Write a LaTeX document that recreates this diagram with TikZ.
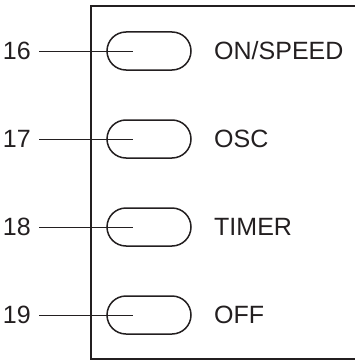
\documentclass[tikz,border=0pt]{standalone}
\usepackage{fontspec}
\setmainfont{Liberation Sans}
\definecolor{ink}{HTML}{231F20}
\begin{document}
\begin{tikzpicture}[x=1pt,y=-1pt,
  every node/.style={font=\fontsize{25}{29}\selectfont, text=ink},
  num/.style={anchor=east, inner sep=0pt},
  lbl/.style={anchor=west, inner sep=0pt},
  btn/.style={draw=ink, line width=1.5pt, rounded corners=19pt, minimum width=84pt, minimum height=38pt, inner sep=0pt},
  leader/.style={draw=ink, line width=0.8pt, shorten <=8pt},
  panel/.style={draw=ink, line width=2pt}]
\useasboundingbox (0,0) rectangle (355,361);
\draw[panel] (370,6) -- (91,6) -- (91,359) -- (370,359);
\foreach \n/\y/\t in {16/51/ON\slash SPEED, 17/139/OSC, 18/227/TIMER, 19/315/OFF}{
  \node[btn] (b\n) at (149,\y) {};
  \node[num] (n\n) at (31,\y) {\n};
  \node[lbl] (l\n) at (214,\y) {\t};
  \coordinate (c\n) at (133,\y);
  \draw[leader] (n\n.east) -- (c\n);
}
\end{tikzpicture}
\end{document}
